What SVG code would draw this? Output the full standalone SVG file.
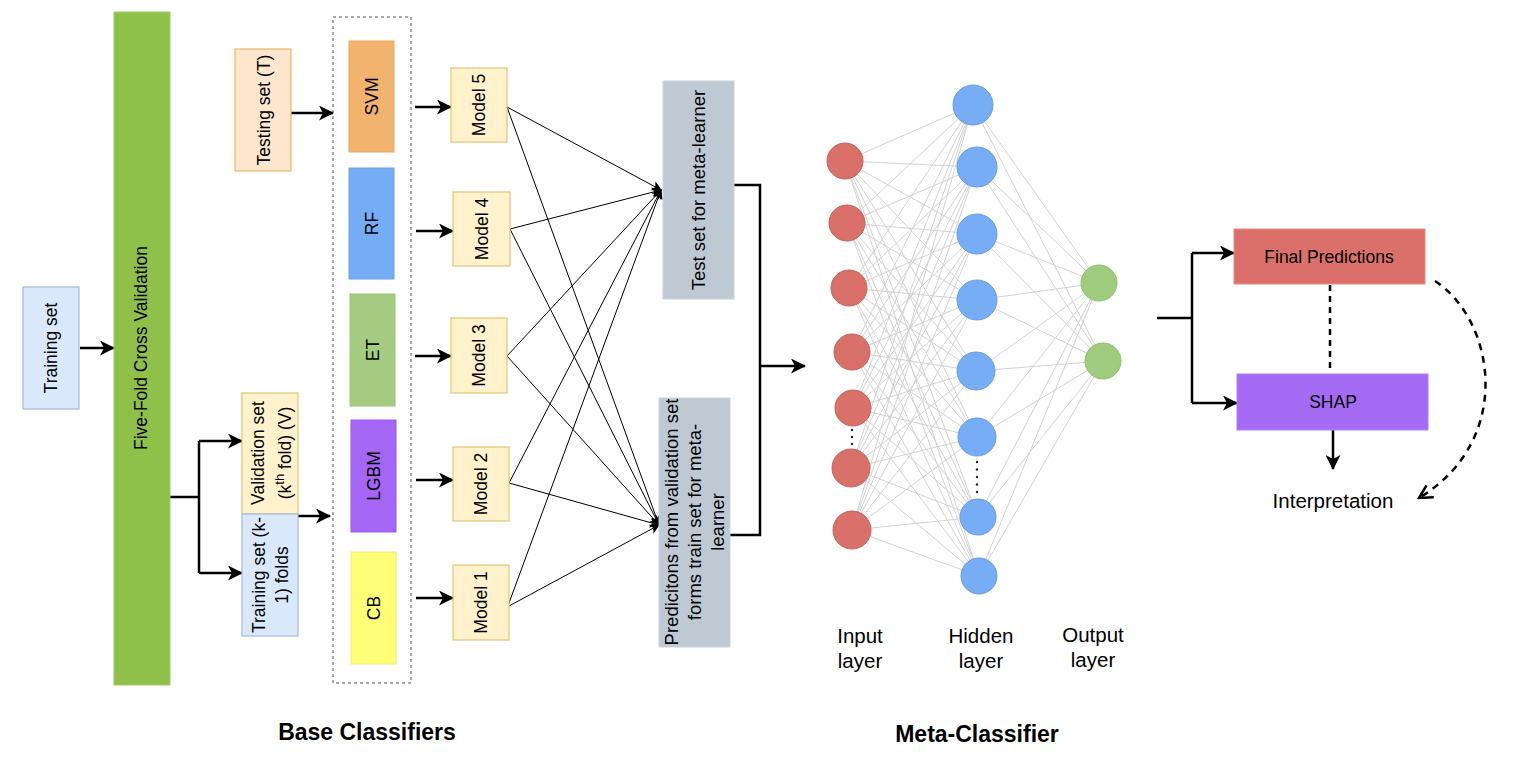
<svg xmlns="http://www.w3.org/2000/svg" width="1526" height="766" viewBox="0 0 1526 766">
<style>
text{font-family:"Liberation Sans",Arial,sans-serif;fill:#000}
.t17{font-size:17.5px}
.t18{font-size:18.5px}
.t20{font-size:20.5px}
.bold{font-size:23px;font-weight:bold}
.mid{text-anchor:middle}
.thick{stroke:#000;stroke-width:2.5;fill:none}
.thin{stroke:#000;stroke-width:1;fill:none}
.nn{stroke:#d2d2d2;stroke-width:1;fill:none}
.model{fill:#fff2cc;stroke:#dfc475;stroke-width:1.2}
.gray{fill:#bfc9d4;stroke:#ccd4dd;stroke-width:1}
.inN{fill:#d9706a;stroke:#c4625c;stroke-width:1}
.hidN{fill:#76adf5;stroke:#6a9be0;stroke-width:1}
.outN{fill:#9fcb7d;stroke:#8fbf6c;stroke-width:1}
</style>
<defs>
<marker id="arr" viewBox="0 0 15 15" markerWidth="15" markerHeight="15" refX="14" refY="7.5" orient="auto" markerUnits="userSpaceOnUse"><path d="M0,0 L15,7.5 L0,15 L4,7.5 z" fill="#000"/></marker>
<marker id="sarr" viewBox="0 0 10 10" markerWidth="10" markerHeight="10" refX="9" refY="5" orient="auto" markerUnits="userSpaceOnUse"><path d="M0,0 L10,5 L0,10 L2.5,5 z" fill="#000"/></marker>
<marker id="oarr" viewBox="0 0 16 16" markerWidth="16" markerHeight="16" refX="14" refY="8" orient="auto" markerUnits="userSpaceOnUse"><path d="M1,1 L14,8 L1,15" fill="none" stroke="#000" stroke-width="2.5"/></marker>
</defs>
<rect width="1526" height="766" fill="#fff"/>

<g id="connectors">
<g class="nn">
<path d="M845 161L973 105M845 161L977 167M845 161L977 234M845 161L977 300M845 161L976 371M845 161L977 437M845 161L978 517M845 161L979 576
M847 223L973 105M847 223L977 167M847 223L977 234M847 223L977 300M847 223L976 371M847 223L977 437M847 223L978 517M847 223L979 576
M849 288L973 105M849 288L977 167M849 288L977 234M849 288L977 300M849 288L976 371M849 288L977 437M849 288L978 517M849 288L979 576
M852 352L973 105M852 352L977 167M852 352L977 234M852 352L977 300M852 352L976 371M852 352L977 437M852 352L978 517M852 352L979 576
M853 408L973 105M853 408L977 167M853 408L977 234M853 408L977 300M853 408L976 371M853 408L977 437M853 408L978 517M853 408L979 576
M851 468L973 105M851 468L977 167M851 468L977 234M851 468L977 300M851 468L976 371M851 468L977 437M851 468L978 517M851 468L979 576
M852 530L973 105M852 530L977 167M852 530L977 234M852 530L977 300M852 530L976 371M852 530L977 437M852 530L978 517M852 530L979 576
M973 105L1099 283M973 105L1103 361M977 167L1099 283M977 167L1103 361M977 234L1099 283M977 234L1103 361M977 300L1099 283M977 300L1103 361
M976 371L1099 283M976 371L1103 361M977 437L1099 283M977 437L1103 361M978 517L1099 283M978 517L1103 361M979 576L1099 283M979 576L1103 361"/>
</g>
<path class="thick" d="M80 348L114 348" marker-end="url(#arr)"/>
<path class="thick" d="M291 113L333 113" marker-end="url(#arr)"/>
<path class="thick" d="M170 497L199 497M199 441L199 573"/>
<path class="thick" d="M199 441L242 441" marker-end="url(#arr)"/>
<path class="thick" d="M199 573L242 573" marker-end="url(#arr)"/>
<path class="thick" d="M298 516L330 516" marker-end="url(#arr)"/>
<path class="thick" d="M415 107L451 107" marker-end="url(#arr)"/>
<path class="thick" d="M416 231L453 231" marker-end="url(#arr)"/>
<path class="thick" d="M415 356L451 356" marker-end="url(#arr)"/>
<path class="thick" d="M416 480L453 480" marker-end="url(#arr)"/>
<path class="thick" d="M416 598L453 598" marker-end="url(#arr)"/>
<path class="thin" d="M507 107L661 190" marker-end="url(#sarr)"/>
<path class="thin" d="M507 107L659 525" marker-end="url(#sarr)"/>
<path class="thin" d="M510 229L661 190" marker-end="url(#sarr)"/>
<path class="thin" d="M510 229L659 525" marker-end="url(#sarr)"/>
<path class="thin" d="M507 356L661 190" marker-end="url(#sarr)"/>
<path class="thin" d="M507 356L659 525" marker-end="url(#sarr)"/>
<path class="thin" d="M509 483L661 190" marker-end="url(#sarr)"/>
<path class="thin" d="M509 483L659 525" marker-end="url(#sarr)"/>
<path class="thin" d="M509 603L661 190" marker-end="url(#sarr)"/>
<path class="thin" d="M509 606L659 525" marker-end="url(#sarr)"/>
<path class="thick" d="M734 185L760 185L760 535L730 535"/>
<path class="thick" d="M760 366L805 366" marker-end="url(#arr)"/>
<path class="thick" d="M1157 318L1192 318M1192 253L1192 403"/>
<path class="thick" d="M1192 253L1234 253" marker-end="url(#arr)"/>
<path class="thick" d="M1192 403L1237 403" marker-end="url(#arr)"/>
<path class="thick" d="M1330 285L1330 373" stroke-dasharray="6 5"/>
<path class="thick" d="M1333 430L1333 469" marker-end="url(#arr)"/>
<path class="thick" d="M1435 281C1495 320 1515 440 1419 498" stroke-dasharray="7 6" marker-end="url(#oarr)"/>
</g>

<g id="training-set">
<rect x="23" y="287" width="56" height="122" fill="#dae8fc" stroke="#a3bbe0" stroke-width="1.2"/>
<text class="t17 mid" x="51" y="354" transform="rotate(-90 51 348)">Training set</text>
</g>
<g id="five-fold">
<rect x="114" y="12" width="56" height="673" fill="#8ec04a" stroke="#a2cc6a" stroke-width="1"/>
<text class="t17 mid" x="141" y="354" transform="rotate(-90 141 348)">Five-Fold Cross Validation</text>
</g>
<g id="testing-set">
<rect x="235" y="49" width="56" height="122" fill="#fce6cd" stroke="#e8b86a" stroke-width="1.2"/>
<text class="t17 mid" x="264" y="116" transform="rotate(-90 264 110)">Testing set (T)</text>
</g>
<g id="validation-set">
<rect x="242" y="393" width="56" height="121" fill="#fff2cc" stroke="#e0c672" stroke-width="1.2"/>
<text class="t17 mid" x="270" y="447" transform="rotate(-90 270 453)">Validation set</text>
<text class="t17 mid" x="270" y="474" transform="rotate(-90 270 453)">(k<tspan dy="-7" font-size="13">th</tspan><tspan dy="7"> fold) (V)</tspan></text>
</g>
<g id="training-folds">
<rect x="242" y="514" width="56" height="122" fill="#dae8fc" stroke="#a3bbe0" stroke-width="1.2"/>
<text class="t17 mid" x="270" y="570" transform="rotate(-90 270 575)">Training set (k-</text>
<text class="t17 mid" x="270" y="593" transform="rotate(-90 270 575)">1) folds</text>
</g>
<g id="base-classifiers">
<rect x="333" y="17" width="78" height="666" fill="none" stroke="#555" stroke-width="1" stroke-dasharray="3 3"/>
</g>
<g id="svm">
<rect x="349" y="41" width="45" height="111" fill="#f2b36f" stroke="#e9a85c" stroke-width="1"/>
<text class="t17 mid" x="371.5" y="102.5" transform="rotate(-90 371.5 96.5)">SVM</text>
</g>
<g id="rf">
<rect x="349" y="168" width="45" height="111" fill="#76acf5" stroke="#6a9fe6" stroke-width="1"/>
<text class="t17 mid" x="371.5" y="229.5" transform="rotate(-90 371.5 223.5)">RF</text>
</g>
<g id="et">
<rect x="350" y="294" width="45" height="112" fill="#a4cd82" stroke="#97c374" stroke-width="1"/>
<text class="t17 mid" x="372.5" y="356" transform="rotate(-90 372.5 350)">ET</text>
</g>
<g id="lgbm">
<rect x="351" y="420" width="45" height="112" fill="#a566f5" stroke="#9a5be8" stroke-width="1"/>
<text class="t17 mid" x="373.5" y="482" transform="rotate(-90 373.5 476)">LGBM</text>
</g>
<g id="cb">
<rect x="351" y="552" width="45" height="112" fill="#ffff77" stroke="#eeee70" stroke-width="1"/>
<text class="t17 mid" x="373.5" y="614" transform="rotate(-90 373.5 608)">CB</text>
</g>
<g id="model5">
<rect class="model" x="451" y="68" width="56" height="74"/>
<text class="t17 mid" x="479" y="111" transform="rotate(-90 479 105)">Model 5</text>
</g>
<g id="model4">
<rect class="model" x="453" y="192" width="57" height="74"/>
<text class="t17 mid" x="481.5" y="235" transform="rotate(-90 481.5 229)">Model 4</text>
</g>
<g id="model3">
<rect class="model" x="451" y="318" width="56" height="75"/>
<text class="t17 mid" x="479" y="361.5" transform="rotate(-90 479 355.5)">Model 3</text>
</g>
<g id="model2">
<rect class="model" x="453" y="447" width="56" height="74"/>
<text class="t17 mid" x="481" y="490" transform="rotate(-90 481 484)">Model 2</text>
</g>
<g id="model1">
<rect class="model" x="453" y="565" width="56" height="75"/>
<text class="t17 mid" x="481" y="608.5" transform="rotate(-90 481 602.5)">Model 1</text>
</g>
<g id="test-meta">
<rect class="gray" x="663" y="81" width="71" height="218"/>
<text class="t18 mid" x="698.5" y="196.5" transform="rotate(-90 698.5 190)">Test set for meta-learner</text>
</g>
<g id="pred-meta">
<rect class="gray" x="659" y="398" width="71" height="249"/>
<text class="t18 mid" x="694" y="505.5" transform="rotate(-90 694 522)">Predicitons from validation set</text>
<text class="t18 mid" x="694" y="528.5" transform="rotate(-90 694 522)">forms train set for meta-</text>
<text class="t18 mid" x="694" y="551.5" transform="rotate(-90 694 522)">learner</text>
</g>

<g id="input-layer">
<circle class="inN" cx="845" cy="161" r="18"/>
<circle class="inN" cx="847" cy="223" r="18"/>
<circle class="inN" cx="849" cy="288" r="18"/>
<circle class="inN" cx="852" cy="352" r="18"/>
<circle class="inN" cx="853" cy="408" r="18"/>
<circle class="inN" cx="851" cy="468" r="19"/>
<circle class="inN" cx="852" cy="530" r="19"/>
<g fill="#222"><circle cx="852" cy="430" r="1.2"/><circle cx="852" cy="437" r="1.2"/><circle cx="852" cy="444" r="1.2"/></g>
<text class="t20 mid" x="860" y="643">Input</text>
<text class="t20 mid" x="860" y="668">layer</text>
</g>
<g id="hidden-layer">
<circle class="hidN" cx="973" cy="105" r="20"/>
<circle class="hidN" cx="977" cy="167" r="20"/>
<circle class="hidN" cx="977" cy="234" r="20"/>
<circle class="hidN" cx="977" cy="300" r="20"/>
<circle class="hidN" cx="976" cy="371" r="19"/>
<circle class="hidN" cx="977" cy="437" r="19"/>
<circle class="hidN" cx="978" cy="517" r="18"/>
<circle class="hidN" cx="979" cy="576" r="18"/>
<g fill="#222"><circle cx="977" cy="462" r="1.2"/><circle cx="977" cy="469.5" r="1.2"/><circle cx="977" cy="477" r="1.2"/><circle cx="977" cy="484.5" r="1.2"/><circle cx="977" cy="492" r="1.2"/></g>
<text class="t20 mid" x="981" y="643">Hidden</text>
<text class="t20 mid" x="981" y="668">layer</text>
</g>
<g id="output-layer">
<circle class="outN" cx="1099" cy="283" r="18"/>
<circle class="outN" cx="1103" cy="361" r="18"/>
<text class="t20 mid" x="1093" y="642">Output</text>
<text class="t20 mid" x="1093" y="667">layer</text>
</g>

<g id="final-predictions">
<rect x="1234" y="229" width="191" height="55" fill="#db706a" stroke="#e88a84" stroke-width="1"/>
<text class="t17 mid" x="1329" y="263">Final Predictions</text>
</g>
<g id="shap">
<rect x="1237" y="374" width="191" height="56" fill="#a66bf5" stroke="#b27ff7" stroke-width="1"/>
<text class="t17 mid" x="1333" y="408">SHAP</text>
</g>
<g id="interpretation">
<text class="t20 mid" x="1333" y="508">Interpretation</text>
</g>
<g id="titles">
<text class="bold mid" x="367" y="740">Base Classifiers</text>
<text class="bold mid" x="977" y="742">Meta-Classifier</text>
</g>
</svg>
